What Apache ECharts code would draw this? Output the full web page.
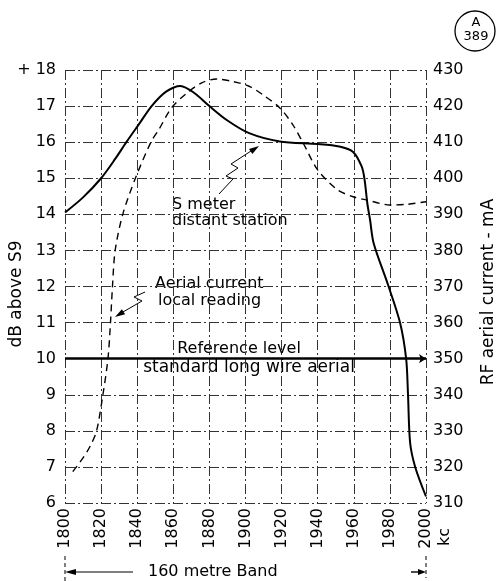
<!DOCTYPE html>
<html>
<head>
<meta charset="utf-8">
<title>160 metre band – S meter and aerial current</title>
<script src="https://cdn.jsdelivr.net/npm/echarts@6/dist/echarts.min.js"></script>
<style>
  html, body { margin: 0; padding: 0; background: #fff; }
  #chart { width: 498px; height: 581px; }
</style>
</head>
<body>
<div id="chart"></div>
<script>
// Frequency ticks (kc) and axis ranges
const freqTicks = [1800, 1820, 1840, 1860, 1880, 1900, 1920, 1940, 1960, 1980, 2000];
const dbTicks = [6, 7, 8, 9, 10, 11, 12, 13, 14, 15, 16, 17, 18];
const maTicks = [310, 320, 330, 340, 350, 360, 370, 380, 390, 400, 410, 420, 430];

// S meter reading of a distant station (dB above S9)
const sMeterFreq = [1800, 1810, 1820, 1828, 1834, 1841, 1848, 1856, 1864, 1872, 1880, 1890, 1902, 1919, 1940, 1952, 1959.6, 1964.4, 1966, 1967.5, 1969, 1971, 1979, 1985.6, 1989, 1990, 1991.2, 1994, 2000];
const sMeterDb   = [14.05, 14.47, 15.0, 15.55, 16.0, 16.5, 17.0, 17.4, 17.56, 17.35, 17.0, 16.6, 16.25, 16.02, 15.95, 15.88, 15.73, 15.32, 14.95, 14.3, 13.85, 13.2, 12.04, 11.0, 10.0, 9.05, 7.67, 7.0, 6.18];

// Aerial current, local reading (mA)
const aerialFreq = [1804.3, 1810, 1814, 1817.5, 1821, 1823.8, 1825.2, 1826.3, 1827.8, 1832, 1839, 1847.6, 1852, 1859, 1867.5, 1876, 1884, 1893, 1902, 1910, 1919, 1926, 1932, 1940, 1951, 1960, 1967, 1980, 1990, 2000];
const aerialMa   = [318.7, 322.5, 325.8, 330, 340, 350, 360, 370, 380, 390, 400, 410, 413.5, 419.5, 423.6, 426.5, 427.5, 426.8, 425.5, 423, 419.5, 415, 409.7, 402.3, 396.8, 394.8, 394, 392.6, 392.8, 393.5];

// Standard long wire aerial reference
const referenceLevelDb = 10;

const FONT = '"DejaVu Sans", sans-serif';
const gridLine = { color: '#333', width: 1, type: [10, 3, 2, 3] };

const chart = echarts.init(document.getElementById('chart'), null, { renderer: 'canvas' });

function txt(x, y, text, size, align, rot) {
  return {
    type: 'text', x: x, y: y, rotation: rot || 0, silent: true,
    style: {
      text: text, font: size + 'px ' + FONT, fill: '#000',
      textAlign: align || 'left', textVerticalAlign: 'middle'
    }
  };
}
function line(pts, dash, w) {
  return {
    type: 'polyline', silent: true,
    shape: { points: pts },
    style: { stroke: '#000', lineWidth: w || 1, fill: null, lineDash: dash || null }
  };
}
function head(pts) {
  return { type: 'polygon', silent: true, shape: { points: pts }, style: { fill: '#000' } };
}

const option = {
  animation: false,
  backgroundColor: '#fff',
  grid: { left: 65, right: 72, top: 70, bottom: 78 },
  xAxis: {
    type: 'value', min: freqTicks[0], max: freqTicks[freqTicks.length - 1], interval: 20,
    axisLine: { show: false }, axisTick: { show: false },
    splitLine: { show: true, lineStyle: gridLine },
    axisLabel: {
      rotate: 90, margin: 5, color: '#000', fontFamily: FONT, fontSize: 16,
      formatter: v => String(v)
    }
  },
  yAxis: [
    {
      type: 'value', min: dbTicks[0], max: dbTicks[dbTicks.length - 1], interval: 1,
      axisLine: { show: false }, axisTick: { show: false },
      splitLine: { show: true, lineStyle: gridLine },
      axisLabel: {
        margin: 9, color: '#000', fontFamily: FONT, fontSize: 16,
        formatter: v => (v === 18 ? '+ 18' : String(v))
      }
    },
    {
      type: 'value', position: 'right', min: maTicks[0], max: maTicks[maTicks.length - 1], interval: 10,
      axisLine: { show: false }, axisTick: { show: false },
      splitLine: { show: false },
      axisLabel: { margin: 7, color: '#000', fontFamily: FONT, fontSize: 16 }
    }
  ],
  series: [
    {
      name: 'S meter distant station', type: 'line', yAxisIndex: 0,
      data: sMeterFreq.map((f, i) => [f, sMeterDb[i]]),
      smooth: 0.3, symbol: 'none', silent: true,
      lineStyle: { color: '#000', width: 2 },
      markLine: {
        silent: true, symbol: ['none', 'arrow'], symbolSize: 7,
        label: { show: false },
        lineStyle: { color: '#000', width: 2.6, type: 'solid' },
        data: [{ yAxis: referenceLevelDb }]
      }
    },
    {
      name: 'Aerial current local reading', type: 'line', yAxisIndex: 1,
      data: aerialFreq.map((f, i) => [f, aerialMa[i]]),
      smooth: 0.3, symbol: 'none', silent: true,
      lineStyle: { color: '#000', width: 1.4, type: [7, 5] }
    }
  ],
  graphic: [
    // axis titles
    txt(17, 294, 'dB above S9', 17, 'center', Math.PI / 2),
    txt(489, 292, 'RF aerial current - mA', 17, 'center', Math.PI / 2),
    txt(445, 537, 'kc', 16, 'center', Math.PI / 2),

    // curve annotations
    txt(172, 205, 'S meter', 16),
    txt(172, 221, 'distant station', 16),
    line([[219, 194], [233, 179], [226, 176], [238, 168], [231, 164], [251, 151]], null, 1),
    head([[259, 146], [252.4, 154], [249, 149]]),

    txt(155, 284, 'Aerial current', 16),
    txt(158, 301, 'local reading', 16),
    line([[145, 292], [134, 297], [142, 301], [123, 312]], null, 1),
    head([[115, 317], [125.1, 314.2], [121.9, 309.2]]),

    txt(239, 349, 'Reference level', 16, 'center'),
    txt(249, 368, 'standard long wire aerial', 17, 'center'),

    // band extent along the bottom
    line([[65, 556], [65, 581]], [4, 3], 1),
    line([[70, 572], [133, 572]], null, 1),
    head([[65, 572], [76, 569], [76, 575]]),
    txt(148, 572, '160 metre Band', 16),
    line([[426, 556], [426, 578]], [4, 3], 1),
    line([[411, 572], [420, 572]], null, 1.4),
    head([[426, 572], [418, 569], [418, 575]]),

    // sheet reference
    { type: 'circle', silent: true, shape: { cx: 475, cy: 31, r: 20 },
      style: { stroke: '#000', lineWidth: 1.3, fill: null } },
    txt(476, 23, 'A', 13, 'center'),
    txt(476, 37, '389', 13, 'center')
  ]
};

chart.setOption(option);
</script>
</body>
</html>
